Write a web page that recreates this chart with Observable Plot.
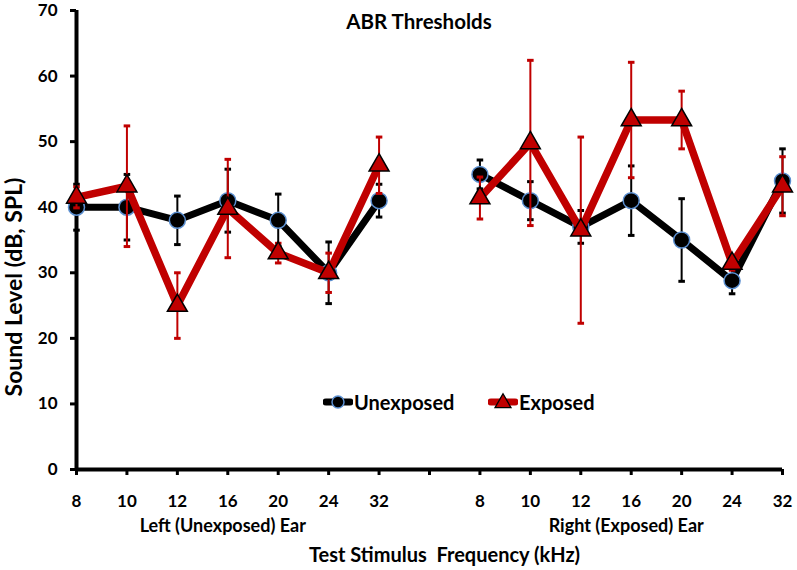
<!DOCTYPE html>
<html>
<head>
<meta charset="utf-8">
<script src="https://cdn.jsdelivr.net/npm/d3@7"></script>
<script src="https://cdn.jsdelivr.net/npm/@observablehq/plot@0.6"></script>
<style>
  html, body { margin: 0; padding: 0; background: #fff; }
  #wrap { position: relative; width: 797px; height: 570px; font-family: Lato, "Open Sans", sans-serif; font-weight: bold; color: #000; }
  #wrap svg.plot { position: absolute; left: 0; top: 0; }
  .title { position: absolute; left: 0; width: 838px; top: 9px; text-align: center; font-size: 20.5px; line-height: 24px; }
  .leg { position: absolute; top: 390px; height: 24px; display: flex; align-items: center; font-size: 20px; }
  .leg svg { margin-right: 1px; }
</style>
</head>
<body>
<div id="wrap"></div>
<script>
// ---- data ----
const freqLabels = ["8", "10", "12", "16", "20", "24", "32"];
const ears = ["Left (Unexposed) Ear", "Right (Exposed) Ear"];
const seriesNames = ["Unexposed", "Exposed"];

const unexposedLeft     = [40, 40, 38, 41, 38, 30, 41];
const unexposedLeftErr  = [3.5, 5, 3.7, 4.8, 4, 4.7, 2.5];
const exposedLeft       = [41.5, 43.2, 25, 39.8, 33, 30, 46.4];
const exposedLeftErr    = [1.6, 9.2, 5, 7.5, 1.5, 3, 4.3];
const unexposedRight    = [45, 41, 37, 41, 35, 28.8, 44];
const unexposedRightErr = [2.2, 2.9, 2.5, 5.3, 6.3, 2, 4.9];
const exposedRight      = [41.4, 49.8, 36.5, 53.3, 53.3, 31.4, 43.2];
const exposedRightErr   = [3.2, 12.6, 14.2, 8.8, 4.4, 1, 4.5];

const yTicks = [0, 10, 20, 30, 40, 50, 60, 70];
const xLabel = "Test Stimulus  Frequency (kHz)";
const yLabel = "Sound Level (dB, SPL)";
const titleText = "ABR Thresholds";

// ---- build table ----
const tickLabels = [...freqLabels, "", ...freqLabels];
const xTicks = d3.range(tickLabels.length);
function rows(series, ear, offset, vals, errs) {
  return vals.map((v, k) => ({series, ear, i: k + offset, v, e: errs[k]}));
}
const unexposed = [
  ...rows("Unexposed", ears[0], 0, unexposedLeft, unexposedLeftErr),
  ...rows("Unexposed", ears[1], 8, unexposedRight, unexposedRightErr)
];
const exposed = [
  ...rows("Exposed", ears[0], 0, exposedLeft, exposedLeftErr),
  ...rows("Exposed", ears[1], 8, exposedRight, exposedRightErr)
];
const earCenters = [3, 11];

const RED = "#c00000";
const BLACK = "#000000";
const RING = "#5b8fd0";
const capW = 0.065;

function errorMarks(data, color) {
  return [
    Plot.ruleX(data, {x: "i", y1: d => d.v - d.e, y2: d => d.v + d.e, stroke: color, strokeWidth: 2}),
    Plot.link(data, {x1: d => d.i - capW, x2: d => d.i + capW, y1: d => d.v + d.e, y2: d => d.v + d.e, stroke: color, strokeWidth: 3}),
    Plot.link(data, {x1: d => d.i - capW, x2: d => d.i + capW, y1: d => d.v - d.e, y2: d => d.v - d.e, stroke: color, strokeWidth: 3})
  ];
}

const chart = Plot.plot({
  width: 797,
  height: 570,
  marginLeft: 76,
  marginRight: 15,
  marginTop: 10,
  marginBottom: 101,
  style: {fontFamily: "Lato, 'Open Sans', sans-serif", fontWeight: "bold", fontSize: "17px", color: "#000", background: "transparent", overflow: "visible"},
  x: {domain: [0, 14]},
  y: {domain: [0, 70]},
  marks: [
    Plot.axisY({ticks: yTicks, tickSize: 6, tickPadding: 13, strokeWidth: 3, label: null, fontSize: 17, fontWeight: "bold"}),
    Plot.axisX({ticks: xTicks, tickFormat: i => tickLabels[i], tickSize: 6, tickPadding: 19, strokeWidth: 3, label: null, fontSize: 17, fontWeight: "bold"}),
    Plot.ruleY([0], {strokeWidth: 4, stroke: BLACK}),
    Plot.ruleX([0], {strokeWidth: 4, stroke: BLACK}),
    ...errorMarks(unexposed, BLACK),
    Plot.line(unexposed, {x: "i", y: "v", z: "ear", stroke: BLACK, strokeWidth: 7, strokeLinejoin: "miter"}),
    Plot.dot(unexposed, {x: "i", y: "v", r: 8, fill: BLACK, stroke: RING, strokeWidth: 1.5}),
    ...errorMarks(exposed, RED),
    Plot.line(exposed, {x: "i", y: "v", z: "ear", stroke: RED, strokeWidth: 7.5, strokeLinejoin: "miter"}),
    Plot.dot(exposed, {x: "i", y: "v", symbol: "triangle", r: 7.4, fill: RED, stroke: BLACK, strokeWidth: 1.5}),
    Plot.text(ears, {x: (d, k) => earCenters[k], frameAnchor: "bottom", dy: 57, dx: -5, lineAnchor: "middle", textAnchor: "middle", fontSize: 18, fontWeight: "bold"}),
    Plot.text([xLabel], {frameAnchor: "bottom", dy: 86, dx: 15, lineAnchor: "middle", textAnchor: "middle", fontSize: 20, fontWeight: "bold"}),
    Plot.text([yLabel], {frameAnchor: "left", rotate: -90, dx: -62, dy: 47, lineAnchor: "middle", textAnchor: "middle", fontSize: 23, fontWeight: "bold"})
  ]
});
chart.classList.add("plot");

const wrap = document.getElementById("wrap");
wrap.appendChild(chart);

const title = document.createElement("div");
title.className = "title";
title.textContent = titleText;
wrap.appendChild(title);

function legendItem(name, left, isTri) {
  const div = document.createElement("div");
  div.className = "leg";
  div.style.left = left + "px";
  const color = isTri ? RED : BLACK;
  const marker = isTri
    ? `<path d="${d3.symbol(d3.symbolTriangle, 110)()}" transform="translate(15,11)" fill="${RED}" stroke="#000" stroke-width="1.3"/>`
    : `<circle cx="15" cy="10" r="6" fill="#000" stroke="${RING}" stroke-width="1.5"/>`;
  div.innerHTML = `<svg width="30" height="20"><line x1="3" x2="27" y1="10" y2="10" stroke="${color}" stroke-width="7" stroke-linecap="round"/>${marker}</svg><span>${name}</span>`;
  wrap.appendChild(div);
}
legendItem(seriesNames[0], 323, false);
legendItem(seriesNames[1], 488, true);
</script>
</body>
</html>
